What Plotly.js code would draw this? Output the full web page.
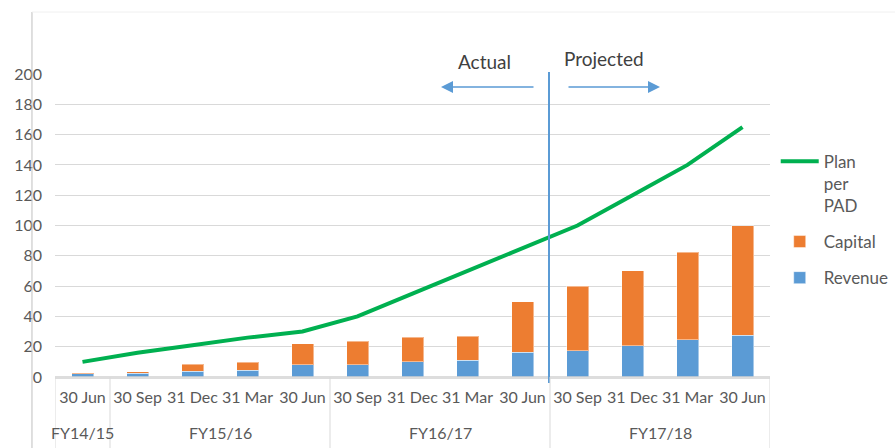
<!DOCTYPE html>
<html>
<head>
<meta charset="utf-8">
<script src="https://cdn.plot.ly/plotly-3.0.1.min.js"></script>
<style>
  html, body { margin: 0; padding: 0; background: #ffffff; }
  #chart { width: 895px; height: 448px; }
</style>
</head>
<body>
<div id="chart"></div>
<script>
// ---- data ----
const fiscalYears = ["FY14/15", "FY15/16", "FY15/16", "FY15/16", "FY15/16",
                     "FY16/17", "FY16/17", "FY16/17", "FY16/17",
                     "FY17/18", "FY17/18", "FY17/18", "FY17/18"];
const quarterDates = ["30 Jun", "30 Sep", "31 Dec", "31 Mar", "30 Jun",
                      "30 Sep", "31 Dec", "31 Mar", "30 Jun",
                      "30 Sep", "31 Dec", "31 Mar", "30 Jun"];
const revenue = [2, 2.5, 3.8, 4.4, 8.2, 8.2, 10.2, 11.2, 16.5, 17.2, 20.7, 24.6, 27.7];
const capital = [0.8, 1, 4.6, 5.3, 13.6, 15.5, 16.2, 15.8, 33.3, 42.6, 49.3, 57.9, 72.3];
const planPerPAD = [10, 16, 21, 26, 30, 40, 55, 70, 85, 100, 120, 140, 165];
const yTicks = [0, 20, 40, 60, 80, 100, 120, 140, 160, 180, 200];

const FONT = "Lato, 'Open Sans', sans-serif";
const GREY = "#595959";

// unique category keys (fiscal year + quarter end), labelled by the quarter date
const xKeys = fiscalYears.map((fy, i) => fy + " " + quarterDates[i]);

// fiscal year groups: [name, firstIndex, lastIndex]
const groups = [];
fiscalYears.forEach((fy, i) => {
  const g = groups[groups.length - 1];
  if (g && g[0] === fy) g[2] = i; else groups.push([fy, i, i]);
});

const traces = [
  {
    type: "bar", name: "Revenue", x: xKeys, y: revenue,
    marker: { color: "#5B9BD5", line: { color: "rgba(255,255,255,0.45)", width: 1 } },
    legendgroup: "g3", legendrank: 3, hoverinfo: "y"
  },
  {
    type: "bar", name: "Capital", x: xKeys, y: capital,
    marker: { color: "#ED7D31", line: { color: "rgba(255,255,255,0.45)", width: 1 } },
    legendgroup: "g2", legendrank: 2, hoverinfo: "y"
  },
  {
    type: "scatter", mode: "lines", name: "Plan<br>per<br>PAD", x: xKeys, y: planPerPAD,
    line: { color: "#00B050", width: 4 },
    legendgroup: "g1", legendrank: 1, hoverinfo: "y"
  }
];

const shapes = [
  // Actual / Projected divider
  { type: "line", xref: "paper", yref: "paper",
    x0: (549 - 55) / 715, x1: (549 - 55) / 715, y0: -0.02, y1: 1.007,
    line: { color: "#5B9BD5", width: 2 } },
  // chart frame remnants
  { type: "line", xref: "paper", yref: "paper",
    x0: -0.0322, x1: -0.0322, y0: -0.24, y1: 1.2046,
    line: { color: "#BFBFBF", width: 1 } },
  { type: "line", xref: "paper", yref: "paper",
    x0: -0.0322, x1: 1.2, y0: 1.2046, y1: 1.2046,
    line: { color: "#F0F0F0", width: 1 } }
];
const annotations = [
  { xref: "paper", yref: "paper", x: (485 - 55) / 715, y: (377 - 61) / 303,
    text: "Actual", showarrow: false, xanchor: "center", yanchor: "middle",
    font: { family: FONT, size: 19, color: "#404040" } },
  { xref: "paper", yref: "paper", x: (604 - 55) / 715, y: (377 - 58) / 303,
    text: "Projected", showarrow: false, xanchor: "center", yanchor: "middle",
    font: { family: FONT, size: 19, color: "#404040" } },
  { xref: "paper", yref: "paper", x: (441 - 55) / 715, y: (377 - 87) / 303,
    axref: "pixel", ayref: "pixel", ax: 94, ay: 0, text: "",
    showarrow: true, arrowhead: 2, arrowsize: 1.6, arrowwidth: 1.5, arrowcolor: "#5B9BD5" },
  { xref: "paper", yref: "paper", x: (660 - 55) / 715, y: (377 - 87) / 303,
    axref: "pixel", ayref: "pixel", ax: -93, ay: 0, text: "",
    showarrow: true, arrowhead: 2, arrowsize: 1.6, arrowwidth: 1.5, arrowcolor: "#5B9BD5" }
];

// group dividers and fiscal-year labels
groups.forEach((g, k) => {
  if (k === 0) {
    shapes.push({ type: "line", xref: "x", yref: "paper", x0: g[1] - 0.5, x1: g[1] - 0.5,
      y0: 0, y1: -0.24, line: { color: "#D9D9D9", width: 1 } });
  }
  shapes.push({ type: "line", xref: "x", yref: "paper", x0: g[2] + 0.5, x1: g[2] + 0.5,
    y0: 0, y1: -0.24, line: { color: "#D9D9D9", width: 1 } });
  annotations.push({ xref: "x", yref: "paper", x: (g[1] + g[2]) / 2, y: (377 - 432) / 303,
    text: g[0], showarrow: false, xanchor: "center", yanchor: "middle",
    font: { family: FONT, size: 16, color: GREY } });
});

const layout = {
  width: 895, height: 448,
  margin: { l: 55, r: 125, t: 74, b: 71, pad: 0, autoexpand: false },
  paper_bgcolor: "#ffffff", plot_bgcolor: "#ffffff",
  barmode: "stack", bargap: 0.6,
  font: { family: FONT, size: 16, color: GREY },
  showlegend: true,
  legend: {
    xref: "paper", x: 1.008, xanchor: "left", y: 0.77, yanchor: "top",
    font: { family: FONT, size: 17, color: GREY },
    traceorder: "grouped", tracegroupgap: 11, valign: "top", itemwidth: 38,
    bgcolor: "rgba(0,0,0,0)", borderwidth: 0
  },
  xaxis: {
    type: "category", range: [-0.5, xKeys.length - 0.5],
    tickvals: xKeys, ticktext: quarterDates,
    showgrid: false, zeroline: false, showline: false,
    ticks: "", tickangle: 0, ticklabelstandoff: 9,
    tickfont: { family: FONT, size: 16, color: GREY }
  },
  yaxis: {
    range: [0, 200], tickvals: yTicks, ticktext: yTicks.map(String),
    showgrid: true, gridcolor: "#D9D9D9", gridwidth: 1,
    zeroline: true, zerolinecolor: "rgba(210,210,210,0.75)", zerolinewidth: 3,
    zerolinelayer: "above traces",
    showline: false, ticks: "", ticklabelstandoff: 12,
    tickfont: { family: FONT, size: 16, color: GREY }
  },
  shapes: shapes,
  annotations: annotations
};

Plotly.newPlot("chart", traces, layout, { displayModeBar: false, staticPlot: true });
</script>
</body>
</html>
